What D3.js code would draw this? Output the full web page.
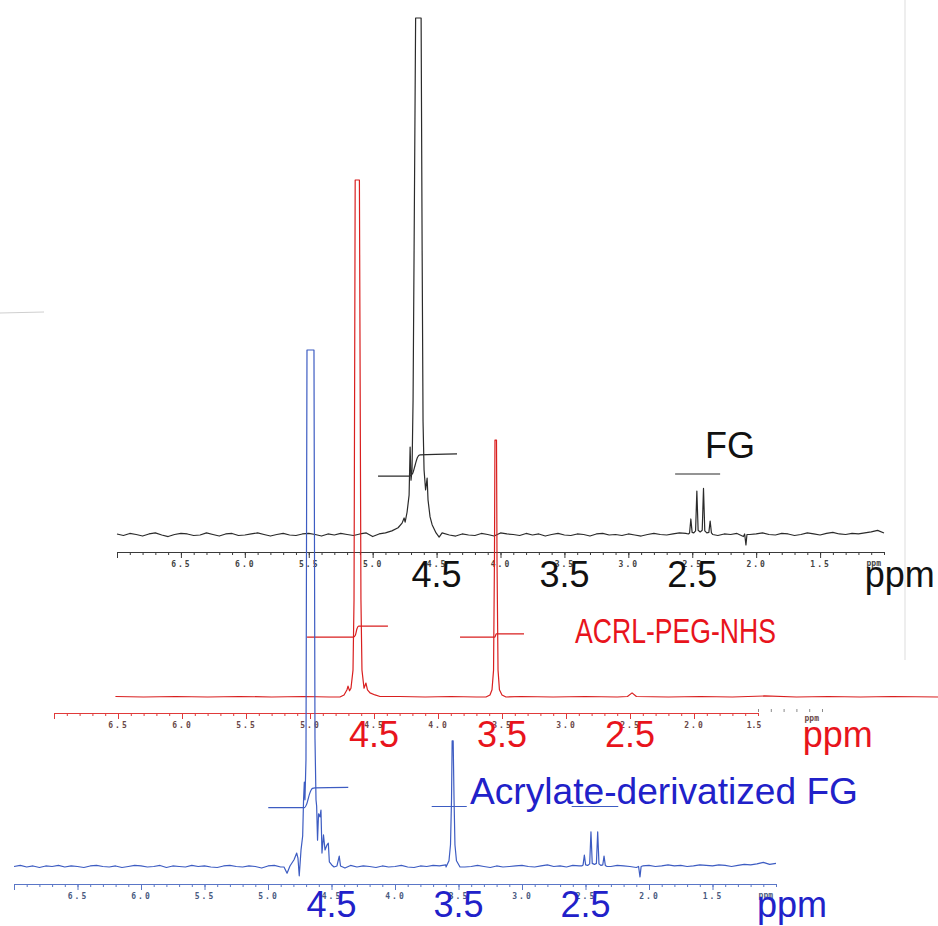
<!DOCTYPE html>
<html>
<head>
<meta charset="utf-8">
<script src="https://cdn.jsdelivr.net/npm/d3@7"></script>
<style>
  html, body { margin: 0; padding: 0; background: #fff; }
  svg { display: block; }
</style>
</head>
<body>
<div id="chart"></div>
<script>
// chemical shift in ppm, intensity in % of full scale (100 = clipped top)
const majorTicks = [6.5, 6.0, 5.5, 5.0, 4.5, 4.0, 3.5, 3.0, 2.5, 2.0, 1.5];
const bigTicks = [4.5, 3.5, 2.5];

// baseline noise, read every 0.05 ppm from 7.00 down to 1.00
const blackNoise = [
  0.2, -0.1, 0.3, 0.1, -0.2, 0.2, 0.4, 0.0, -0.3, 0.1,
  0.3, 0.2, -0.1, 0.0, 0.4, 0.1, -0.2, 0.2, 0.3, -0.1,
  0.0, 0.2, 0.4, 0.1, -0.2, 0.1, 0.3, 0.0, -0.1, 0.2,
  0.3, 0.1, -0.2, 0.2, 0.0, 0.3, 0.1, -0.1, 0.2, 0.4,
  -0.3, 0.2, 0.4, 0.8, 1.2, 0, 0, 0, 0, 0,
  0, 0, 0.1, -0.2, 0.2, 0.0, -0.1, 0.3, 0.1, -0.2,
  0.4, 0.2, 0.1, -0.1, 0.3, 0.0, 0.2, -0.2, 0.1, 0.3,
  0.0, -0.1, 0.2, 0.1, -0.2, 0.2, 0.3, 0.0, 0.1, -0.1,
  0.2, 0.0, -0.2, 0.1, 0.3, 0.1, 0.0, 0.2, 0.4, 0.3,
  0, 0, 0, 0, -0.1, 0.2, 0.1, 0.3, -0.3, 0.1,
  0.2, 0.4, 0.1, 0.0, 0.3, 0.2, -0.1, 0.1, 0.4, 0.2,
  0.0, 0.3, 0.5, 0.2, 0.1, 0.3, 0.2, 0.4, 0.6, 0.9,
  0.4
];
const blueNoise = [
  0.1, 0.3, 0.0, 0.2, -0.1, 0.2, 0.1, 0.3, 0.0, 0.2,
  0.1, -0.1, 0.2, 0.3, 0.1, 0.0, 0.2, -0.1, 0.1, 0.3,
  0.2, 0.0, 0.1, 0.3, -0.1, 0.2, 0.1, 0.0, 0.3, 0.1,
  0.2, 0.0, -0.1, 0.2, 0.3, 0.1, 0.0, 0.2, 0.1, -0.2,
  0.2, 0.3, 0, 0, 0, 0, 0, 0, 0, 0,
  0, 0, 0.1, 0.3, 0.0, 0.2, 0.1, -0.1, 0.2, 0.0,
  0.1, 0.3, 0.0, -0.1, 0.2, 0.1, 0.3, 0.2, 0.4, 0,
  0.2, 0.0, 0.1, 0.3, 0.1, -0.1, 0.2, 0.0, 0.1, 0.2,
  0.3, 0.1, 0.0, 0.2, 0.4, 0.1, 0.2, 0.0, 0.3, 0.2,
  0, 0, 0, 0, 0.1, 0.3, 0.2, 0.1, -0.1, 0.2,
  0.3, 0.1, 0.2, 0.4, 0.2, 0.3, 0.1, 0.2, 0.4, 0.3,
  0.2, 0.4, 0.3, 0.1, 0.3, 0.5, 0.4, 0.6, 0.9, 0.5,
  0.7
];
const redBaseline = [
  [6.52, 0.1], [6.30, 0.0], [6.05, 0.1], [5.80, 0.0], [5.55, 0.1], [5.30, 0.0],
  [5.05, 0.1], [4.85, 0.0], [4.30, 0.1], [4.10, 0.0], [3.90, 0.1], [3.70, 0.0],
  [3.35, 0.1], [3.10, 0.0], [2.85, 0.1], [2.60, 0.0], [2.52, 0.1], [2.484, 0.8],
  [2.45, 0.1], [2.20, 0.0], [1.95, 0.1], [1.70, 0.0], [1.45, 0.2], [1.20, 0.0],
  [0.95, 0.1], [0.70, 0.0], [0.45, 0.1], [0.09, 0.0]
];

// FG (black)
const blackMainPeak = [
  [4.801, 1.4], [4.770, 2.3], [4.754, 3.3], [4.746, 2.5], [4.731, 4.4], [4.715, 7.7],
  [4.707, 17.0], [4.700, 10.6], [4.692, 12.6], [4.684, 26], [4.676, 55], [4.664, 100],
  [4.621, 100], [4.613, 55], [4.606, 22], [4.598, 12.6], [4.586, 8.7], [4.574, 11.0],
  [4.567, 6.8], [4.551, 3.5], [4.535, 2.0], [4.504, 0.4], [4.480, -0.4], [4.457, 0.4],
  [4.400, 0.0]
];
const blackTriplet = [
  [2.530, 0.2], [2.521, 0.4], [2.511, 3.1], [2.501, 0.5], [2.488, 0.4], [2.474, 0.8],
  [2.464, 8.5], [2.454, 0.9], [2.438, 0.6], [2.422, 0.9], [2.412, 9.0], [2.402, 0.8],
  [2.386, 0.4], [2.370, 0.5], [2.360, 2.7], [2.350, 0.4], [2.340, 0.1]
];
const blackDip = [[2.090, 0.2], [2.080, -1.9], [2.072, 0.1]];
const blackIntegral = [[4.958, 11.4], [4.715, 11.4], [4.690, 11.8], [4.668, 13.5], [4.650, 15.0], [4.630, 15.5], [4.340, 15.7]];
const blackFGBar = [[2.634, 11.8], [2.282, 11.8]];

// ACRL-PEG-NHS (red)
const redMainPeak = [
  [4.766, 0], [4.734, 0.4], [4.711, 1.4], [4.703, 2.1], [4.691, 1.2], [4.680, 1.7],
  [4.664, 5.2], [4.656, 18.8], [4.647, 100], [4.614, 100], [4.602, 18.8], [4.594, 5.2],
  [4.578, 1.7], [4.563, 2.7], [4.551, 1.4], [4.531, 0.8], [4.492, 0.4], [4.453, 0.1]
];
const redSecondPeak = [
  [3.625, 0], [3.594, 0.4], [3.578, 1.4], [3.566, 5.2], [3.559, 26.5], [3.555, 49.7],
  [3.543, 49.7], [3.539, 26.5], [3.531, 5.2], [3.520, 1.4], [3.500, 0.4], [3.469, 0]
];
const redIntegralA = [[5.023, 11.6], [4.660, 11.6], [4.645, 12.0], [4.633, 13.2], [4.620, 13.7], [4.391, 13.7]];
const redIntegralB = [[3.828, 11.6], [3.556, 11.6], [3.545, 12.2], [3.328, 12.2]];

// Acrylate-derivatized FG (blue)
const blueMainPeak = [
  [4.874, 0], [4.850, -1.2], [4.827, 0.2], [4.795, 1.4], [4.774, 2.7], [4.764, 1.7],
  [4.754, -1.7], [4.740, 3.3], [4.727, 6.0], [4.720, 13.0], [4.714, 16.4], [4.709, 13.0],
  [4.701, 20.7], [4.693, 100], [4.638, 100], [4.630, 24.8], [4.622, 13.0], [4.617, 11.8],
  [4.610, 5.2], [4.602, 10.3], [4.591, 9.7], [4.583, 11.0], [4.575, 2.7], [4.563, 6.2],
  [4.551, 3.3], [4.535, 4.3], [4.525, 4.6], [4.517, 1.0], [4.498, 0.4], [4.480, 0],
  [4.457, 0.2], [4.439, 2.1], [4.429, 0.2], [4.394, -0.2]
];
const blueSecondPeak = [
  [3.598, 0], [3.575, 1.2], [3.563, 4.3], [3.555, 13.0], [3.550, 24.4],
  [3.542, 24.4], [3.535, 13.0], [3.528, 4.3], [3.516, 1.2], [3.488, 0]
];
const blueTriplet = [
  [2.530, 0.2], [2.519, 0.4], [2.509, 2.3], [2.499, 0.4], [2.483, 0.3], [2.467, 0.6],
  [2.457, 6.8], [2.447, 0.7], [2.430, 0.5], [2.414, 0.7], [2.404, 6.8], [2.394, 0.6],
  [2.378, 0.3], [2.364, 0.4], [2.354, 2.1], [2.344, 0.3], [2.330, 0.1]
];
const blueDip = [[2.082, 0.1], [2.071, -1.9], [2.062, 0.1]];
const blueIntegralA = [[4.998, 11.5], [4.712, 11.5], [4.695, 12.2], [4.672, 14.2], [4.650, 15.2], [4.630, 15.3], [4.368, 15.4]];
const blueIntegralB = [[3.711, 11.7], [3.435, 11.7]];
const blueBar = [[2.609, 11.7], [2.242, 11.7]];

const noiseGrid = vals => vals.map((v, i) => [+(7 - i * 0.05).toFixed(2), v]);

// baseline points that fall inside a peak are replaced by the peak's own points
const buildTrace = (base, peaks) => {
    const ranges = peaks.map(pk => d3.extent(pk, d => d[0]));
    const kept = base.filter(d => !ranges.some(r => d[0] >= r[0] && d[0] <= r[1]));
    return kept.concat(...peaks).sort((a, b) => b[0] - a[0]);
};

const spectra = [
    {
        range: [117, 884], base: 535, axisY: 552, axisEnd: 1.0,
        line: '#2b2b2b', axis: '#3a3a3a', small: '#444', big: '#111',
        trace: buildTrace(noiseGrid(blackNoise), [blackMainPeak, blackTriplet, blackDip]),
        marks: [blackIntegral, blackFGBar], bigY: 587
    },
    {
        range: [54, 822], base: 697, axisY: 713, axisEnd: 1.5,
        line: '#d91f1f', axis: '#e03a3a', small: '#6a4848', big: '#e8141c',
        trace: buildTrace(redBaseline, [redMainPeak, redSecondPeak]),
        marks: [redIntegralA, redIntegralB], bigY: 747
    },
    {
        range: [14, 776], base: 867, axisY: 884, axisEnd: 1.0,
        line: '#3d5cc2', axis: '#5a76c6', small: '#4a5a80', big: '#2121c9',
        trace: buildTrace(noiseGrid(blueNoise), [blueMainPeak, blueSecondPeak, blueTriplet, blueDip]),
        marks: [blueIntegralA, blueIntegralB, blueBar], bigY: 917
    }
];

const svg = d3.select('#chart').append('svg')
    .attr('width', 938)
    .attr('height', 926)
    .style('background-color', '#ffffff');

// scanner edge
svg.append('line').attr('x1', 905).attr('x2', 905).attr('y1', 0).attr('y2', 660)
    .attr('stroke', '#e8e8e8').attr('stroke-width', 1.5);
svg.append('line').attr('x1', 0).attr('x2', 44).attr('y1', 313).attr('y2', 312)
    .attr('stroke', '#cfcfcf');

const minorTicks = d3.range(0, 61).map(i => +(7 - i * 0.1).toFixed(1));

const smallFont = sel => sel
    .style('font-family', '"DejaVu Sans Mono", monospace')
    .style('font-weight', 'bold')
    .style('font-size', '8px');

spectra.forEach(s => {
    const x = d3.scaleLinear().domain([7, 1]).range(s.range);
    const y = d3.scaleLinear().domain([0, 100]).range([s.base, s.base - 517]);

    // axis
    const xa = d3.scaleLinear().domain([7, s.axisEnd]).range([x(7), x(s.axisEnd)]);
    const g = svg.append('g').attr('transform', 'translate(0,' + s.axisY + ')');
    g.append('g')
        .call(d3.axisBottom(xa)
            .tickValues(minorTicks.filter(t => t >= s.axisEnd))
            .tickSize(3).tickSizeOuter(0).tickFormat(''));
    g.append('g')
        .call(d3.axisBottom(xa)
            .tickValues(majorTicks.filter(t => t >= s.axisEnd + 0.4 || s.axisEnd === 1.0).concat([7]))
            .tickSize(6).tickSizeOuter(0).tickPadding(3)
            .tickFormat(d => d === 7 ? '' : d3.format('.1f')(d)));
    g.selectAll('path.domain').attr('stroke', s.axis).attr('stroke-width', 1.2);
    g.selectAll('.tick line').attr('stroke', s.axis);
    g.selectAll('.tick text')
        .attr('fill', s.small)
        .call(smallFont)
        .style('letter-spacing', '2px');

    if (s.axisEnd === 1.5) {
        // faint ticks past the end of the red scale
        const xt = d3.scaleLinear().domain([1.5, 1.0]).range([x(1.5), x(1.0)]);
        const t = svg.append('g').attr('transform', 'translate(0,' + (s.axisY - 1) + ')')
            .call(d3.axisTop(xt).tickValues([1.5, 1.4, 1.3, 1.2, 1.1, 1.0]).tickSize(3).tickFormat(''));
        t.select('path.domain').remove();
        t.selectAll('.tick line').attr('stroke', '#8a8a8a');
        g.append('text').attr('x', x(1.5) - 4).attr('y', 14.5)
            .attr('fill', s.small).attr('text-anchor', 'middle')
            .call(smallFont).text('1.5');
    }
    g.append('text').attr('x', x(1.08)).attr('y', s.axisEnd === 1.5 ? 8 : 14)
        .attr('fill', s.small).attr('text-anchor', 'middle')
        .call(smallFont).text('ppm');

    // spectrum
    const line = d3.line().x(d => x(d[0])).y(d => y(d[1]));
    svg.append('path')
        .datum(s.trace)
        .attr('fill', 'none')
        .attr('stroke', s.line)
        .attr('stroke-width', 1.2)
        .attr('stroke-linejoin', 'round')
        .attr('d', line);

    // integrals and bars
    const smooth = d3.line().x(d => x(d[0])).y(d => y(d[1])).curve(d3.curveMonotoneX);
    s.marks.forEach(m => {
        svg.append('path')
            .datum(m)
            .attr('fill', 'none')
            .attr('stroke', s.line)
            .attr('stroke-width', 1.2)
            .attr('d', smooth);
    });

    s.x = x;
});

// big shift labels
spectra.forEach(s => {
    svg.append('g').selectAll('text')
        .data(bigTicks)
        .join('text')
        .attr('x', d => s.x(d))
        .attr('y', s.bigY)
        .attr('text-anchor', 'middle')
        .attr('fill', s.big)
        .style('font-family', '"Liberation Sans", Arial, sans-serif')
        .style('font-size', '36px')
        .text(d => d3.format('.1f')(d));
    svg.append('text')
        .attr('x', s.x(1.15))
        .attr('y', s.bigY)
        .attr('fill', s.big)
        .style('font-family', '"Liberation Sans", Arial, sans-serif')
        .style('font-size', '36px')
        .text('ppm');
});

// sample names
const names = [
    {text: 'FG', x: 705, y: 458, size: 36, color: '#111', len: null},
    {text: 'ACRL-PEG-NHS', x: 575, y: 643, size: 35, color: '#e8141c', len: 201},
    {text: 'Acrylate-derivatized FG', x: 470, y: 804, size: 36, color: '#2121c9', len: 388}
];
names.forEach(n => {
    const t = svg.append('text')
        .attr('x', n.x).attr('y', n.y)
        .attr('fill', n.color)
        .style('font-family', '"Liberation Sans", Arial, sans-serif')
        .style('font-size', n.size + 'px')
        .text(n.text);
    if (n.len) t.attr('textLength', n.len).attr('lengthAdjust', 'spacingAndGlyphs');
});
</script>
</body>
</html>
